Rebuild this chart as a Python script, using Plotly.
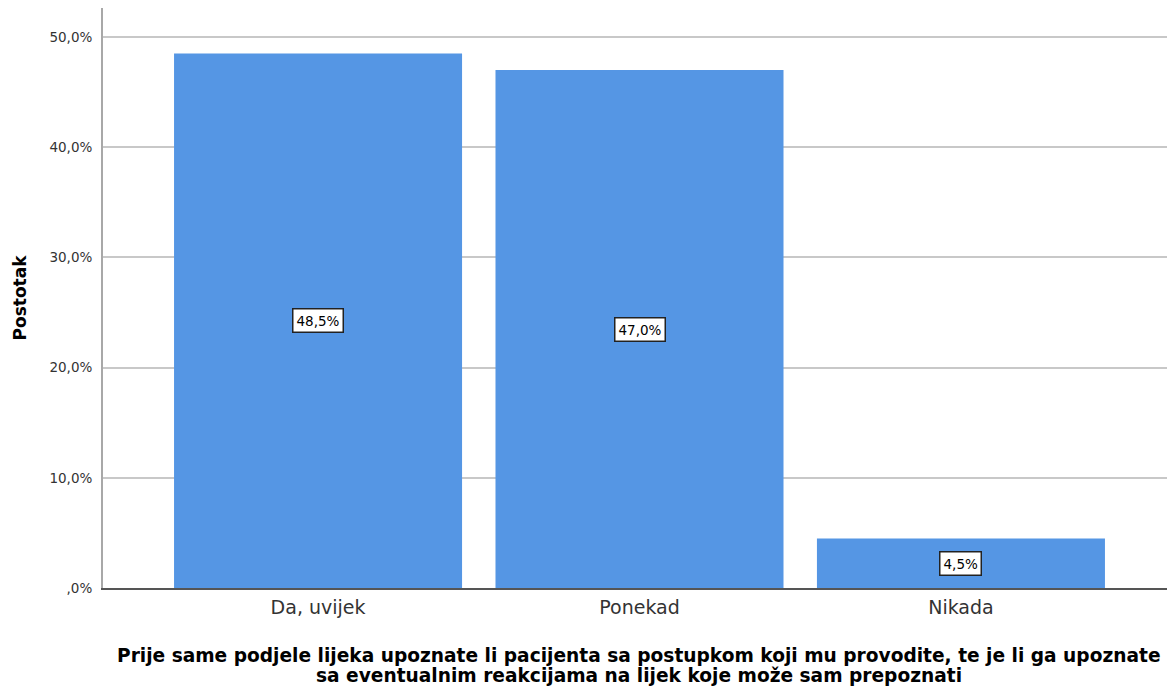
import plotly.graph_objects as go

categories = ["Da, uvijek", "Ponekad", "Nikada"]
values = [48.5, 47.0, 4.5]
value_labels = ["48,5%", "47,0%", "4,5%"]
y_tickvals = [0, 10, 20, 30, 40, 50]
y_ticktext = [",0%", "10,0%", "20,0%", "30,0%", "40,0%", "50,0%"]
x_title_lines = ["Prije same podjele lijeka upoznate li pacijenta sa postupkom koji mu provodite, te je li ga upoznate",
                 "sa eventualnim reakcijama na lijek koje može sam prepoznati"]
y_title = "Postotak"

FONT = "DejaVu Sans, Liberation Sans, Arial"
xpos = list(range(len(categories)))

fig = go.Figure()
fig.add_trace(go.Bar(
    x=xpos, y=values, width=0.896,
    marker=dict(color="#5596e4", line=dict(color="#5596e4", width=0)),
    hoverinfo="skip",
))

for xi, v, t in zip(xpos, values, value_labels):
    fig.add_annotation(
        x=xi, y=v / 2, text=t, showarrow=False,
        font=dict(family=FONT, size=13.5, color="#000000"),
        bgcolor="white", bordercolor="#222222", borderwidth=1.5, borderpad=3,
    )

# x-axis title, two lines placed individually for tight line spacing
for line, ypos in zip(x_title_lines, [-0.1172, -0.1517]):
    fig.add_annotation(
        xref="paper", yref="paper", x=0.5033, y=ypos, xanchor="center", yanchor="middle",
        text="<b>" + line + "</b>", showarrow=False,
        font=dict(family=FONT, size=18.6, color="#000000"),
    )

fig.update_layout(
    width=1167, height=691,
    margin=dict(l=103, r=0, t=8, b=103, autoexpand=False),
    paper_bgcolor="white", plot_bgcolor="white",
    showlegend=False,
    font=dict(family=FONT),
)

fig.update_xaxes(
    tickmode="array", tickvals=xpos, ticktext=categories,
    range=[-0.669, 2.641], automargin=False,
    tickfont=dict(size=19, color="#333333"),
    showline=True, linecolor="#555555", linewidth=1.5,
    showgrid=False, zeroline=False, ticks="", ticklabelstandoff=1,
)

fig.update_yaxes(
    range=[0, 52.63], automargin=False,
    tickmode="array", tickvals=y_tickvals, ticktext=y_ticktext,
    tickfont=dict(size=13.5, color="#333333"),
    showline=True, linecolor="#a8a8a8", linewidth=2,
    showgrid=True, gridcolor="#c8c8c8", gridwidth=1.5,
    zeroline=False, ticks="", ticklabelstandoff=6,
    title=dict(text="<b>" + y_title + "</b>", font=dict(size=17, color="#000000", family=FONT), standoff=18),
)

fig.write_html(
    "out.html",
    config={"displayModeBar": False},
    post_script="document.body.style.margin='0';document.body.style.overflow='hidden';",
)
